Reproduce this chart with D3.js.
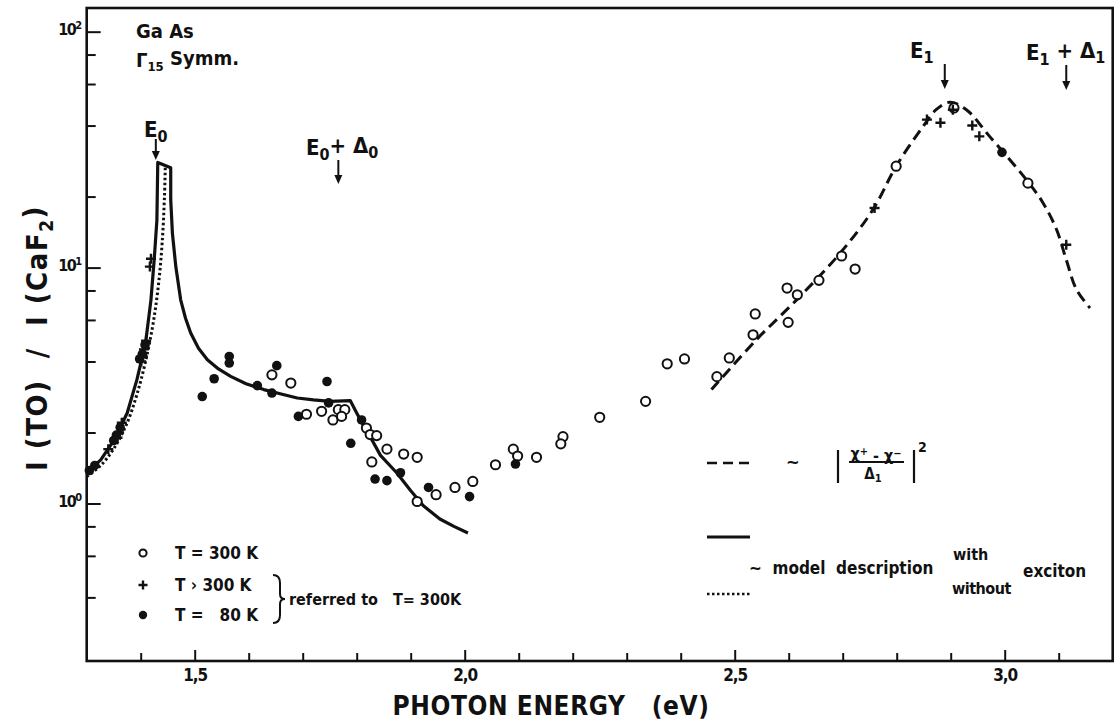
<!DOCTYPE html>
<html>
<head>
<meta charset="utf-8">
<script src="https://cdn.jsdelivr.net/npm/d3@7"></script>
<style>
  html, body { margin: 0; padding: 0; background: #fff; }
  svg { display: block; }
  text { font-family: "DejaVu Sans Condensed", "Liberation Sans Narrow", "DejaVu Sans", sans-serif; fill: #111; font-weight: bold; }
</style>
</head>
<body>
<svg id="chart" width="1119" height="721"></svg>
<script>
// Raman efficiency of the TO phonon in GaAs (Γ15 symmetry), relative to CaF2

// Model with exciton (solid line)
const withExcitonE = [1.300, 1.326, 1.351, 1.375, 1.393, 1.409, 1.419, 1.425, 1.430, 1.4316,
  1.4556, 1.4556, 1.4587, 1.465, 1.474, 1.483, 1.4926, 1.507, 1.5235, 1.544, 1.5666, 1.595, 1.628,
  1.660, 1.690, 1.720, 1.751, 1.788,
  1.800, 1.812, 1.825, 1.844, 1.874, 1.899, 1.923, 1.954, 1.980, 2.006];
const withExcitonI = [1.35, 1.53, 1.86, 2.42, 3.35, 4.79, 7.3, 10.8, 15.9, 27.9,
  26.5, 19.4, 14.0, 10.1, 7.3, 6.1, 5.28, 4.55, 4.07, 3.72, 3.46, 3.22, 3.04,
  2.91, 2.80, 2.75, 2.71, 2.73,
  2.42, 2.15, 1.92, 1.60, 1.35, 1.14, 0.98, 0.86, 0.80, 0.75];

// Model without exciton (dotted line)
const withoutExcitonE = [1.300, 1.326, 1.351, 1.375, 1.393, 1.409, 1.423, 1.433, 1.440, 1.444, 1.4455];
const withoutExcitonI = [1.30, 1.45, 1.72, 2.20, 2.90, 4.00, 5.80, 8.50, 13.0, 20.0, 26.5];

// ~ |(χ+ - χ-)/Δ1|² near E1 (dashed line)
const e1TheoryE = [2.457, 2.540, 2.621, 2.695, 2.756, 2.799, 2.849, 2.873, 2.898, 2.929,
  2.972, 3.040, 3.071, 3.096, 3.114, 3.133, 3.158];
const e1TheoryI = [3.04, 4.94, 7.55, 11.5, 17.6, 26.9, 39.7, 46.7, 50.2, 46.7,
  36.0, 23.6, 18.8, 14.5, 10.8, 8.06, 6.74];

// Measured points, T = 300 K (open circles)
const t300E = [1.643, 1.678, 1.707, 1.735, 1.756, 1.766, 1.778, 1.772, 1.818, 1.825, 1.837,
  1.856, 1.828, 1.887, 1.912, 1.912, 1.947, 1.982, 2.015, 2.057, 2.090, 2.098, 2.133,
  2.182, 2.178, 2.250, 2.335, 2.375, 2.407, 2.467, 2.490, 2.534, 2.538, 2.597, 2.616,
  2.599, 2.656, 2.698, 2.723, 2.799, 2.906, 3.043];
const t300I = [3.51, 3.24, 2.39, 2.46, 2.26, 2.50, 2.50, 2.34, 2.09, 1.96, 1.94,
  1.70, 1.50, 1.62, 1.57, 1.02, 1.09, 1.17, 1.24, 1.46, 1.70, 1.59, 1.57,
  1.92, 1.79, 2.32, 2.71, 3.91, 4.10, 3.45, 4.14, 5.19, 6.36, 8.19, 7.67,
  5.86, 8.83, 11.2, 9.86, 26.9, 47.5, 22.8];

// Measured points, T > 300 K referred to 300 K (crosses)
const tHighE = [1.419, 1.417, 1.410, 1.406, 1.404, 1.401, 1.365, 1.360, 1.357, 1.340,
  2.759, 2.856, 2.881, 2.904, 2.940, 2.953, 3.114];
const tHighI = [10.9, 10.1, 4.9, 4.5, 4.2, 4.0, 2.2, 2.0, 1.9, 1.7,
  17.9, 42.4, 41.1, 46.7, 40.0, 36.0, 12.5];

// Measured points, T = 80 K referred to 300 K (filled dots)
const t80E = [1.408, 1.403, 1.398, 1.362, 1.355, 1.350, 1.305, 1.315,
  1.514, 1.536, 1.564, 1.564, 1.616, 1.643, 1.652, 1.692, 1.745, 1.748, 1.789, 1.809,
  1.834, 1.856, 1.881, 1.933, 2.009, 2.094, 2.995];
const t80I = [4.7, 4.3, 4.1, 2.1, 1.95, 1.85, 1.38, 1.45,
  2.84, 3.38, 4.20, 3.94, 3.16, 2.94, 3.84, 2.34, 3.29, 2.67, 1.80, 2.26,
  1.27, 1.25, 1.35, 1.17, 1.07, 1.47, 30.8];

// Critical point energies marked with arrows
const transitionE = [1.428, 1.766, 2.889, 3.114];

// Axis ticks
const xMajorTicks = [1.5, 2.0, 2.5, 3.0];
const xMajorLabels = ["1,5", "2,0", "2,5", "3,0"];
const xMinorTicks = [1.4, 1.6, 1.7, 1.8, 1.9, 2.1, 2.2, 2.3, 2.4, 2.6, 2.7, 2.8, 2.9, 3.1];
const yMajorTicks = [1, 10, 100];
const yMajorExponents = ["0", "1", "2"];
const yMinorTicks = [0.4, 0.6, 0.8, 2, 4, 6, 8, 20, 40, 60, 80];

const svg = d3.select("#chart");
const plotLeft = 86.7, plotRight = 1112.7, plotTop = 8, plotBottom = 661;

const x = d3.scaleLinear().domain([1.3, 3.2]).range([plotLeft, plotRight]);
const y = d3.scaleLog().domain([0.215, 126]).range([plotBottom, plotTop]);

const toPts = (es, is) => es.map((e, i) => [e, is[i]]);
const lineSharp = d3.line().x(d => x(d[0])).y(d => y(d[1])).curve(d3.curveLinear);
const lineSmooth = d3.line().x(d => x(d[0])).y(d => y(d[1])).curve(d3.curveCatmullRom.alpha(0.5));

const plot = svg.append("g");

// Curves
plot.append("path").datum(toPts(withoutExcitonE, withoutExcitonI))
  .attr("d", lineSmooth).attr("fill", "none").attr("stroke", "#111")
  .attr("stroke-width", 3).attr("stroke-dasharray", "2.5,2.5");
plot.append("path").datum(toPts(withExcitonE, withExcitonI))
  .attr("d", lineSharp).attr("fill", "none").attr("stroke", "#111")
  .attr("stroke-width", 3.2).attr("stroke-linejoin", "round");
plot.append("path").datum(toPts(e1TheoryE, e1TheoryI))
  .attr("d", lineSmooth).attr("fill", "none").attr("stroke", "#111")
  .attr("stroke-width", 3).attr("stroke-dasharray", "11,6");

// Data points
plot.selectAll("circle.t300").data(toPts(t300E, t300I)).join("circle")
  .attr("class", "t300")
  .attr("cx", d => x(d[0])).attr("cy", d => y(d[1])).attr("r", 4.6)
  .attr("fill", "#fff").attr("stroke", "#111").attr("stroke-width", 2);
plot.selectAll("path.thigh").data(toPts(tHighE, tHighI)).join("path")
  .attr("class", "thigh")
  .attr("transform", d => `translate(${x(d[0])},${y(d[1])})`)
  .attr("d", "M-5,0H5M0,-5V5").attr("stroke", "#111").attr("stroke-width", 2.4);
plot.selectAll("circle.t80").data(toPts(t80E, t80I)).join("circle")
  .attr("class", "t80")
  .attr("cx", d => x(d[0])).attr("cy", d => y(d[1])).attr("r", 4.8)
  .attr("fill", "#111");

// Axes
const xMinor = d3.axisBottom(x).tickValues(xMinorTicks).tickSize(-8).tickFormat("");
const xMajor = d3.axisBottom(x).tickValues(xMajorTicks).tickSize(-11).tickPadding(8)
  .tickFormat((d, i) => xMajorLabels[i]);
const yMinor = d3.axisLeft(y).tickValues(yMinorTicks).tickSize(-9).tickFormat("");
const yMajor = d3.axisLeft(y).tickValues(yMajorTicks).tickSize(-14).tickPadding(6).tickFormat("");

function styleAxis(g) {
  g.select(".domain").remove();
  g.selectAll(".tick line").attr("stroke", "#111").attr("stroke-width", 2);
}
svg.append("g").attr("transform", `translate(0,${plotBottom})`).call(xMinor).call(styleAxis);
const gxMajor = svg.append("g").attr("transform", `translate(0,${plotBottom})`).call(xMajor).call(styleAxis);
gxMajor.selectAll(".tick text").attr("font-size", 17)
  .style("font-family", '"DejaVu Sans Condensed", "Liberation Sans Narrow", sans-serif').attr("fill", "#111")
  .attr("letter-spacing", "-1");
svg.append("g").attr("transform", `translate(${plotLeft},0)`).call(yMinor).call(styleAxis);
const gyMajor = svg.append("g").attr("transform", `translate(${plotLeft},0)`).call(yMajor).call(styleAxis);
gyMajor.selectAll(".tick text").each(function (d, i) {
  const t = d3.select(this).text(null).attr("font-size", 16).attr("fill", "#111")
    .style("font-family", '"DejaVu Sans Condensed", sans-serif')
    .attr("dy", "0.2em").attr("letter-spacing", "-1.5");
  t.append("tspan").text("10");
  t.append("tspan").attr("dy", "-0.55em").attr("font-size", 11).text(yMajorExponents[i]);
});

// Frame
svg.append("rect").attr("x", plotLeft).attr("y", plotTop)
  .attr("width", plotRight - plotLeft).attr("height", plotBottom - plotTop)
  .attr("fill", "none").attr("stroke", "#111").attr("stroke-width", 2.6);

// Axis titles
svg.append("text").attr("x", 551).attr("y", 715).attr("text-anchor", "middle")
  .attr("font-size", 26).attr("xml:space", "preserve").attr("letter-spacing", "0.6")
  .text("PHOTON ENERGY   (eV)");
const yt = svg.append("text").attr("transform", "translate(47,338) rotate(-90)")
  .attr("text-anchor", "middle").attr("font-size", 29).attr("xml:space", "preserve")
  .attr("letter-spacing", "1.5");
yt.append("tspan").text("I (TO)  /  I (CaF");
yt.append("tspan").attr("dy", "0.3em").attr("font-size", 19).text("2");
yt.append("tspan").attr("dy", "-0.3em").text(")");

// Sample label
svg.append("text").attr("x", 136).attr("y", 38).attr("font-size", 20).text("Ga As");
const sym = svg.append("text").attr("x", 136).attr("y", 67).attr("font-size", 20);
sym.append("tspan").text("Γ");
sym.append("tspan").attr("dy", "0.3em").attr("font-size", 13).text("15");
sym.append("tspan").attr("dy", "-0.3em").text(" Symm.");

// Critical point labels and arrows
function arrow(xp, y0, y1) {
  svg.append("line").attr("x1", xp).attr("x2", xp).attr("y1", y0).attr("y2", y1 - 6)
    .attr("stroke", "#111").attr("stroke-width", 2);
  svg.append("path").attr("d", `M${xp - 4},${y1 - 9}L${xp + 4},${y1 - 9}L${xp},${y1}Z`).attr("fill", "#111");
}
function subLabel(xp, yp, main, sub, anchor, extra) {
  const t = svg.append("text").attr("x", xp).attr("y", yp).attr("font-size", 22)
    .attr("text-anchor", anchor || "start");
  t.append("tspan").text(main);
  t.append("tspan").attr("dy", "0.3em").attr("font-size", 16).text(sub);
  if (extra) {
    t.append("tspan").attr("dy", "-0.3em").text(extra[0]);
    t.append("tspan").attr("dy", "0.3em").attr("font-size", 16).text(extra[1]);
  }
  return t;
}
subLabel(144, 137, "E", "0");
arrow(x(transitionE[0]), 139, 160);
subLabel(306, 155, "E", "0", "start", ["+ Δ", "0"]);
arrow(x(transitionE[1]), 160, 184);
subLabel(910, 58, "E", "1");
arrow(x(transitionE[2]), 64, 89);
subLabel(1026, 60, "E", "1", "start", [" + Δ", "1"]);
arrow(x(transitionE[3]), 65, 90);

// Legend: measured points
const legend = svg.append("g");
legend.append("circle").attr("cx", 143).attr("cy", 553).attr("r", 3.6)
  .attr("fill", "#fff").attr("stroke", "#111").attr("stroke-width", 2);
legend.append("path").attr("transform", "translate(143,585)").attr("d", "M-4.5,0H4.5M0,-4.5V4.5")
  .attr("stroke", "#111").attr("stroke-width", 2.4);
legend.append("circle").attr("cx", 143).attr("cy", 615).attr("r", 4.2).attr("fill", "#111");
const legendText = [["T = 300 K", 559], ["T › 300 K", 591], ["T =   80 K", 621]];
legendText.forEach(([s, yy]) => {
  legend.append("text").attr("x", 175).attr("y", yy).attr("font-size", 17)
    .attr("xml:space", "preserve").text(s);
});
legend.append("path").attr("d", "M273,575 Q280,575 280,583 L280,594 Q280,599 285,599 Q280,599 280,604 L280,615 Q280,623 273,623")
  .attr("fill", "none").attr("stroke", "#111").attr("stroke-width", 2);
legend.append("text").attr("x", 289).attr("y", 605).attr("font-size", 16)
  .attr("xml:space", "preserve").text("referred to   T= 300K");

// Legend: curves
const leg2 = svg.append("g");
leg2.append("line").attr("x1", 707).attr("x2", 750).attr("y1", 463).attr("y2", 463)
  .attr("stroke", "#111").attr("stroke-width", 2.5).attr("stroke-dasharray", "10,6");
leg2.append("text").attr("x", 786).attr("y", 468).attr("font-size", 18).text("~");
leg2.append("line").attr("x1", 838).attr("x2", 838).attr("y1", 450).attr("y2", 483)
  .attr("stroke", "#111").attr("stroke-width", 2.2);
leg2.append("line").attr("x1", 914).attr("x2", 914).attr("y1", 450).attr("y2", 483)
  .attr("stroke", "#111").attr("stroke-width", 2.2);
leg2.append("line").attr("x1", 849).attr("x2", 904).attr("y1", 462).attr("y2", 462)
  .attr("stroke", "#111").attr("stroke-width", 1.8);
const num = leg2.append("text").attr("x", 876).attr("y", 459).attr("font-size", 16).attr("text-anchor", "middle");
num.append("tspan").text("χ");
num.append("tspan").attr("dy", "-0.4em").attr("font-size", 11).text("+");
num.append("tspan").attr("dy", "0.4em").text(" - χ");
num.append("tspan").attr("dy", "-0.4em").attr("font-size", 11).text("−");
const den = leg2.append("text").attr("x", 873).attr("y", 479).attr("font-size", 15).attr("text-anchor", "middle");
den.append("tspan").text("Δ");
den.append("tspan").attr("dy", "0.25em").attr("font-size", 11).text("1");
leg2.append("text").attr("x", 918).attr("y", 452).attr("font-size", 14).text("2");

leg2.append("line").attr("x1", 707).attr("x2", 750).attr("y1", 537).attr("y2", 537)
  .attr("stroke", "#111").attr("stroke-width", 3);
leg2.append("line").attr("x1", 707).attr("x2", 750).attr("y1", 594).attr("y2", 594)
  .attr("stroke", "#111").attr("stroke-width", 2.5).attr("stroke-dasharray", "2.5,2.5");
leg2.append("text").attr("x", 749).attr("y", 574).attr("font-size", 17)
  .attr("xml:space", "preserve").text("~  model  description");
leg2.append("text").attr("x", 953).attr("y", 560).attr("font-size", 16).text("with");
leg2.append("text").attr("x", 952).attr("y", 594).attr("font-size", 16).attr("letter-spacing", "-0.5").text("without");
leg2.append("text").attr("x", 1023).attr("y", 577).attr("font-size", 17).text("exciton");
</script>
</body>
</html>
